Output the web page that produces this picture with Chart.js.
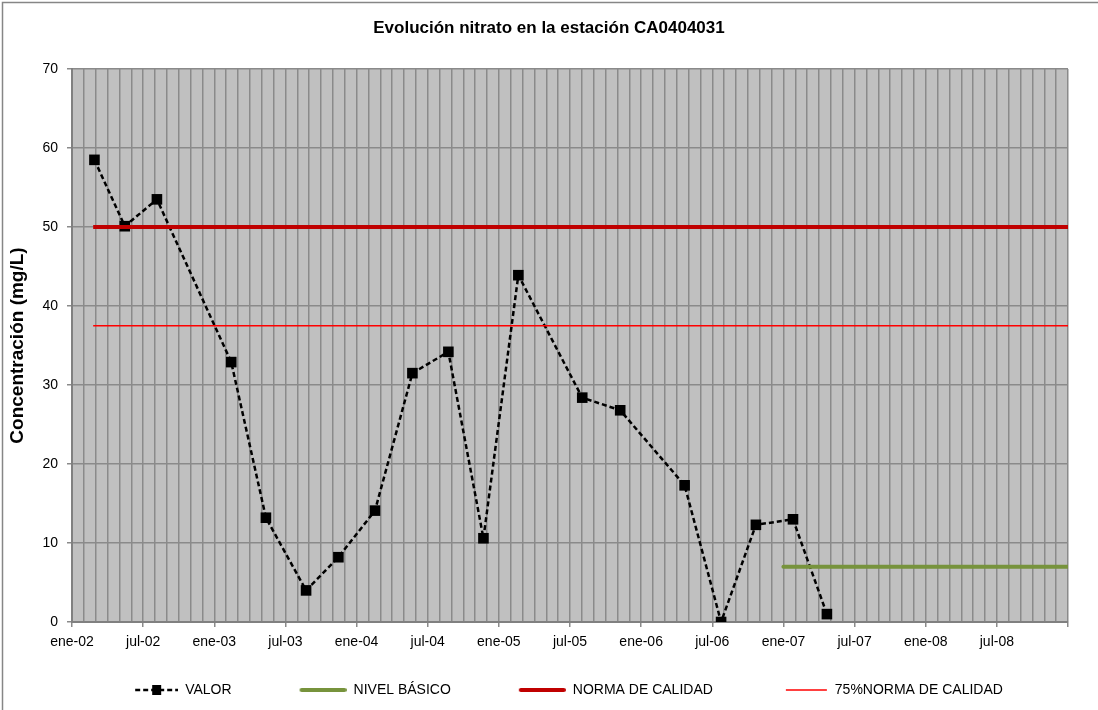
<!DOCTYPE html>
<html>
<head>
<meta charset="utf-8">
<script src="https://cdn.jsdelivr.net/npm/chart.js@4.4.1/dist/chart.umd.min.js"></script>
<style>
  html, body { margin: 0; padding: 0; background: #fff; }
  #chart-nitrato { display: block; }
</style>
</head>
<body>
<canvas id="chart-nitrato" width="1098" height="710"></canvas>
<script>

// fechas de muestreo y concentración de nitrato (mg/L)
var fechas = ['2002-02-26', '2002-05-15', '2002-08-06', '2003-02-13', '2003-05-12', '2003-08-24',
    '2003-11-15', '2004-02-17', '2004-05-23', '2004-08-24', '2004-11-22', '2005-02-19',
    '2005-08-02', '2005-11-08', '2006-04-21', '2006-07-24', '2006-10-22', '2007-01-26', '2007-04-21'];
var valor = [58.5, 50.1, 53.5, 32.9, 13.2, 4.0, 8.2, 14.1, 31.5, 34.2, 10.6, 43.9,
    28.4, 26.8, 17.3, 0.0, 12.3, 13.0, 1.0];

var fechasNorma = ['2002-02-23', '2009-01-01'];
var normaCalidad = [50, 50];
var norma75 = [37.5, 37.5];

var fechasNivel = ['2007-01-01', '2009-01-01'];
var nivelBasico = [7, 7];

var etiquetasX = ['ene-02', 'jul-02', 'ene-03', 'jul-03', 'ene-04', 'jul-04', 'ene-05',
    'jul-05', 'ene-06', 'jul-06', 'ene-07', 'jul-07', 'ene-08', 'jul-08'];

// meses desde ene-02
function mesIndice(f) {
    var p = f.split('-').map(Number);
    var dias = new Date(p[0], p[1], 0).getDate();
    return (p[0] - 2002) * 12 + (p[1] - 1) + (p[2] - 1) / dias;
}

function puntos(xs, ys) {
    return xs.map(function (f, i) { return { x: mesIndice(f), y: ys[i] }; });
}

// iconos de leyenda (hueco transparente a la izquierda + simbolo)
var ICON_W = 83, ICON_H = 14, LEG_PAD = 32;
function icono(dibujar) {
    var c = document.createElement('canvas');
    c.width = ICON_W;
    c.height = ICON_H;
    dibujar(c.getContext('2d'));
    return c;
}
var iconos = [
    icono(function (ctx) {
        ctx.strokeStyle = '#000';
        ctx.lineWidth = 2.5;
        ctx.setLineDash([5, 3]);
        ctx.beginPath();
        ctx.moveTo(ICON_W - 43, 7);
        ctx.lineTo(ICON_W, 7);
        ctx.stroke();
        ctx.fillStyle = '#000';
        ctx.fillRect(ICON_W - 26, 2, 9, 10);
    }),
    icono(function (ctx) {
        ctx.strokeStyle = '#77933C';
        ctx.lineWidth = 4;
        ctx.lineCap = 'round';
        ctx.beginPath();
        ctx.moveTo(ICON_W - 45, 7);
        ctx.lineTo(ICON_W - 2, 7);
        ctx.stroke();
    }),
    icono(function (ctx) {
        ctx.strokeStyle = '#C00000';
        ctx.lineWidth = 4;
        ctx.lineCap = 'round';
        ctx.beginPath();
        ctx.moveTo(ICON_W - 45, 7);
        ctx.lineTo(ICON_W - 2, 7);
        ctx.stroke();
    }),
    icono(function (ctx) {
        ctx.strokeStyle = '#FF0000';
        ctx.lineWidth = 1.5;
        ctx.beginPath();
        ctx.moveTo(ICON_W - 42, 7);
        ctx.lineTo(ICON_W - 1, 7);
        ctx.stroke();
    })
];

var fondo = {
    id: 'fondo',
    beforeDraw: function (chart) {
        var ctx = chart.ctx, a = chart.chartArea;
        ctx.save();
        ctx.fillStyle = '#fff';
        ctx.fillRect(0, 0, chart.width, chart.height);
        ctx.strokeStyle = '#868686';
        ctx.lineWidth = 1.5;
        ctx.strokeRect(2.5, 2.5, chart.width + 10, chart.height + 10);
        ctx.fillStyle = '#C0C0C0';
        ctx.fillRect(a.left, a.top, a.right - a.left, a.bottom - a.top);
        ctx.restore();
    }
};

var gris = '#8a8a8a';

new Chart('chart-nitrato', {
    type: 'line',
    data: {
        datasets: [{
            label: 'VALOR',
            data: puntos(fechas, valor),
            borderColor: '#000',
            backgroundColor: '#000',
            borderWidth: 2.5,
            borderDash: [5, 3],
            pointStyle: 'rect',
            pointRadius: 7.5,
            pointBorderWidth: 0,
            order: 4
        }, {
            label: 'NIVEL BÁSICO',
            data: puntos(fechasNivel, nivelBasico),
            borderColor: '#77933C',
            borderWidth: 4,
            borderCapStyle: 'round',
            pointRadius: 0,
            order: 3
        }, {
            label: 'NORMA DE CALIDAD',
            data: puntos(fechasNorma, normaCalidad),
            borderColor: '#C00000',
            borderWidth: 4,
            pointRadius: 0,
            order: 2
        }, {
            label: '75%NORMA DE CALIDAD',
            data: puntos(fechasNorma, norma75),
            borderColor: '#FF0000',
            borderWidth: 1.5,
            pointRadius: 0,
            order: 1
        }]
    },
    options: {
        responsive: false,
        animation: false,
        layout: { padding: { left: 0, right: 0, top: 0, bottom: 3 } },
        plugins: {
            title: {
                display: true,
                text: 'Evolución nitrato en la estación CA0404031',
                color: '#000',
                font: { family: 'Liberation Sans', size: 17, weight: 'bold' },
                padding: { top: 18, bottom: 30.6 }
            },
            legend: {
                position: 'bottom',
                labels: {
                    color: '#000',
                    font: { family: 'Liberation Sans', size: 14 },
                    usePointStyle: true,
                    pointStyleWidth: ICON_W,
                    padding: LEG_PAD,
                    sort: function (a, b) { return a.datasetIndex - b.datasetIndex; },
                    generateLabels: function (chart) {
                        var items = Chart.defaults.plugins.legend.labels.generateLabels(chart);
                        items.forEach(function (it) { it.pointStyle = iconos[it.datasetIndex]; });
                        return items;
                    }
                }
            },
            tooltip: { enabled: false }
        },
        scales: {
            x: {
                type: 'linear',
                min: 0,
                max: 84,
                afterFit: function (s) { s.height = 61 - LEG_PAD; },
                ticks: {
                    stepSize: 1,
                    autoSkip: false,
                    maxRotation: 0,
                    padding: 7,
                    color: '#000',
                    font: { family: 'Liberation Sans', size: 14 },
                    callback: function (v) {
                        return (v % 6 === 0 && v < 84) ? etiquetasX[v / 6] : '';
                    }
                },
                grid: {
                    color: gris,
                    lineWidth: 1.5,
                    tickLength: 5,
                    tickColor: function (c) {
                        return (c.tick && c.tick.value % 6 === 0) ? gris : 'rgba(0,0,0,0)';
                    }
                },
                border: { color: '#808080', width: 2 }
            },
            y: {
                min: 0,
                max: 70,
                afterFit: function (s) { s.width = 72; },
                ticks: {
                    stepSize: 10,
                    padding: 9,
                    color: '#000',
                    font: { family: 'Liberation Sans', size: 14 }
                },
                grid: { color: gris, lineWidth: 1.5, tickLength: 5 },
                border: { color: '#808080', width: 2 },
                title: {
                    display: true,
                    text: 'Concentración (mg/L)',
                    color: '#000',
                    font: { family: 'Liberation Sans', size: 19, weight: 'bold' },
                    padding: { top: 6, bottom: 0 }
                }
            },
            // margen derecho del área de trazado
            margen: {
                type: 'linear',
                position: 'right',
                min: 0,
                max: 70,
                afterFit: function (s) { s.width = 30; },
                ticks: { display: false },
                grid: { display: false, drawTicks: false },
                border: { display: false }
            }
        }
    },
    plugins: [fondo]
});
</script>
</body>
</html>
